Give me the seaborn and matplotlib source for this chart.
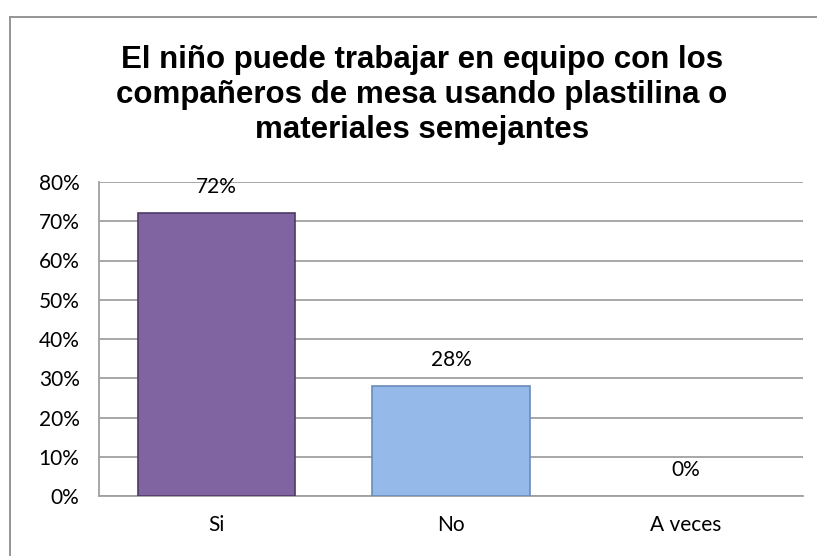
import matplotlib
matplotlib.use("Agg")
import matplotlib.pyplot as plt
import seaborn as sns
import pandas as pd
from matplotlib.lines import Line2D
from matplotlib.ticker import FuncFormatter

categories = ["Si", "No", "A veces"]
values = [0.72, 0.28, 0.0]
value_labels = ["72%", "28%", "0%"]
title = "El niño puede trabajar en equipo con los\ncompañeros de mesa usando plastilina o\nmateriales semejantes"

sns.set_theme(style="white")
plt.rcParams['font.family'] = ['Lato', 'DejaVu Sans']
plt.rcParams['text.color'] = 'black'

df = pd.DataFrame({"cat": categories, "val": values})
colors = {"Si": "#8064A2", "No": "#95B9E8", "A veces": "#4F81BD"}
edges = ["#4E3A66", "#6A8CBA", "#3A5F8C"]

fig = plt.figure(figsize=(8.17, 5.56), dpi=100)
ax = fig.add_axes([99/817, 1-496/556, (803-99)/817, (496-182)/556])

sns.barplot(data=df, x="cat", y="val", hue="cat", palette=colors, legend=False,
            width=0.67, saturation=1, ax=ax, zorder=3)
for p, ec, v in zip(ax.patches, edges, values):
    p.set_edgecolor(ec)
    p.set_linewidth(1.2 if v > 0 else 0)

ax.set_ylim(0, 0.8)
ax.set_yticks([i/10 for i in range(9)])
ax.yaxis.set_major_formatter(FuncFormatter(lambda v, _: f"{round(v*100)}%"))
ax.grid(axis="y", color="#A0A0A0", linewidth=1.3, zorder=0)
ax.set_axisbelow(True)
for s in ["top", "right"]:
    ax.spines[s].set_visible(False)
for s in ["left", "bottom"]:
    ax.spines[s].set_color("#A0A0A0")
    ax.spines[s].set_linewidth(1.3)
ax.tick_params(axis="y", labelsize=15, pad=14, length=0, colors="black")
ax.tick_params(axis="x", labelsize=15, pad=14, length=0, colors="black")
ax.set_xlabel("")
ax.set_ylabel("")

for i, (v, lab) in enumerate(zip(values, value_labels)):
    ax.annotate(lab, (i, v), xytext=(0, 26), textcoords="offset pixels",
                ha="center", va="center", fontsize=15, color="black")

fig.text(0.516, 1-95/556, title, ha="center", va="center", fontsize=22.5,
         fontweight="bold", family=["Liberation Sans", "DejaVu Sans"], linespacing=1.22,
         color="black")

# outer chart border
fig.add_artist(Line2D([10/817, 10/817], [0, 1-17/556], color="#8C8C8C", linewidth=1.3,
                      transform=fig.transFigure))
fig.add_artist(Line2D([10/817, 1], [1-17/556, 1-17/556], color="#8C8C8C", linewidth=1.3,
                      transform=fig.transFigure))

fig.savefig("out.png", dpi=100)
